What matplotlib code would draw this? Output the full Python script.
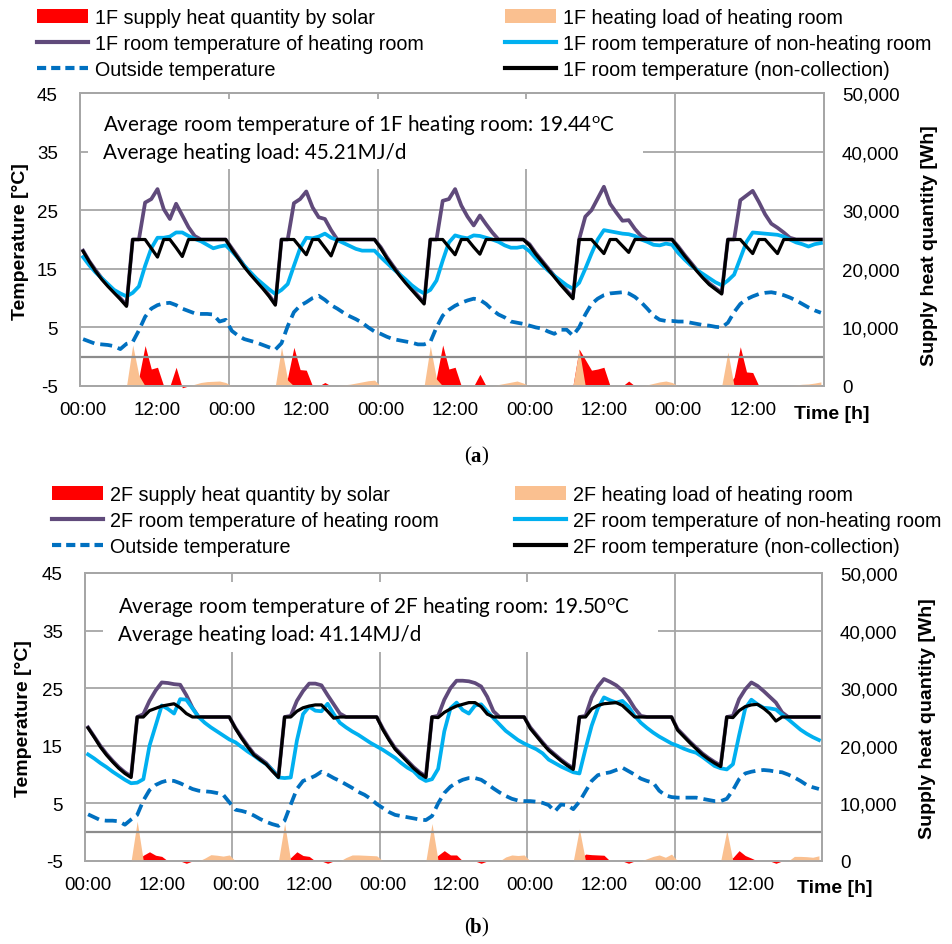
import matplotlib
matplotlib.use('Agg')
import matplotlib.pyplot as plt
from matplotlib.patches import Patch, Rectangle
from matplotlib.lines import Line2D
from matplotlib.ticker import FuncFormatter

plt.rcParams['font.family'] = ['Liberation Sans', 'DejaVu Sans']
plt.rcParams['axes.unicode_minus'] = False
CAL = 'Lato'
SERIF = 'Liberation Serif'
plt.rcParams['mathtext.fontset'] = 'custom'
plt.rcParams['mathtext.rm'] = CAL
plt.rcParams['mathtext.it'] = CAL

# ---------------- data ----------------
HOURS = list(range(120))
TICK_HOURS = [0, 12, 24, 36, 48, 60, 72, 84, 96, 108]
TICK_LABELS = ['00:00', '12:00'] * 5
DAY_BOUNDS = [23.5, 47.5, 71.5, 95.5]

A_BLACK = [18.0, 16.2, 14.6, 13.2, 12.0, 10.9, 9.8, 8.6, 20, 20, 20, 18.5, 17.0, 20, 20, 18.6, 17.1, 20, 20, 20, 20, 20, 20, 20,
           18.3, 16.8, 15.3, 14.0, 12.8, 11.6, 10.3, 8.8, 20, 20, 20, 18.7, 17.4, 20, 20, 18.6, 17.2, 20, 20, 20, 20, 20, 20, 20,
           18.5, 16.8, 15.3, 13.9, 12.6, 11.4, 10.2, 9.0, 20, 20, 20, 18.7, 17.4, 20, 20, 18.7, 17.5, 20, 20, 20, 20, 20, 20, 20,
           19.0, 17.5, 16.2, 14.9, 13.6, 12.3, 11.1, 9.9, 20, 20, 20, 18.8, 17.6, 20, 20, 18.9, 17.8, 20, 20, 20, 20, 20, 20, 20,
           18.6, 17.2, 15.9, 14.6, 13.4, 12.3, 11.5, 10.7, 20, 20, 20, 18.8, 17.6, 20, 20, 18.8, 17.6, 20, 20, 20, 20, 20, 20, 20]
A_PURPLE = [18.1, 16.3, 14.8, 13.4, 12.2, 11.1, 10.0, 8.8, 20, 20, 26.3, 26.9, 28.6, 25.2, 23.5, 26.1, 24.1, 22.1, 20.6, 20, 20, 20, 20, 20,
            18.5, 17.0, 15.5, 14.2, 13.0, 11.8, 10.5, 9.0, 20, 20, 26.2, 26.9, 28.2, 25.5, 23.8, 23.5, 21.6, 20, 20, 20, 20, 20, 20, 20,
            18.7, 17.0, 15.5, 14.1, 12.8, 11.6, 10.4, 9.2, 20, 20, 26.6, 26.9, 28.6, 25.8, 23.9, 22.4, 24.1, 22.6, 21.2, 20, 20, 20, 20, 20,
            19.2, 17.7, 16.4, 15.1, 13.8, 12.5, 11.3, 10.1, 20, 23.9, 25.0, 27.0, 29.0, 26.1, 24.6, 23.2, 23.3, 21.8, 20.6, 20, 20, 20, 20, 20,
            18.8, 17.4, 16.1, 14.8, 13.6, 12.5, 11.7, 10.9, 20, 20, 26.7, 27.5, 28.3, 26.4, 24.3, 22.7, 22.0, 21.2, 20.3, 20, 20, 20, 20, 20]
A_CYAN = [17.0, 15.6, 14.4, 13.4, 12.4, 11.4, 10.8, 10.3, 10.9, 12.0, 15.5, 18.5, 20.3, 20.3, 20.5, 21.2, 21.2, 20.6, 20.1, 19.7, 19.1, 18.5, 18.8, 19.0,
          18.0, 16.8, 15.5, 14.4, 13.3, 12.4, 11.5, 10.7, 11.4, 12.4, 15.5, 18.5, 20.3, 20.2, 20.5, 21.0, 20.3, 19.9, 19.4, 18.9, 18.4, 18.1, 18.1, 18.1,
          17.0, 16.0, 15.0, 14.1, 13.2, 12.2, 11.4, 10.8, 11.4, 13.0, 16.4, 19.5, 20.7, 20.4, 20.2, 20.7, 20.6, 20.3, 20.0, 19.6, 19.0, 18.6, 18.6, 18.8,
          18.0, 16.8, 15.7, 14.7, 13.8, 13.0, 12.2, 11.6, 12.6, 15.0, 17.6, 20.0, 21.6, 21.4, 21.2, 21.0, 20.9, 20.6, 20.0, 19.6, 19.1, 19.0, 19.3, 19.1,
          17.7, 16.6, 15.6, 14.8, 14.1, 13.4, 12.7, 12.2, 13.0, 14.0, 16.8, 19.6, 21.2, 21.1, 21.0, 20.9, 20.8, 20.5, 20.0, 19.5, 19.2, 18.8, 19.2, 19.4]
A_OUT = [3.0, 2.6, 2.2, 2.1, 2.0, 1.8, 1.3, 2.2, 2.5, 4.5, 6.8, 8.2, 8.8, 9.1, 9.2, 8.8, 8.2, 7.8, 7.4, 7.3, 7.3, 7.2, 6.0, 6.3,
         4.4, 3.6, 3.0, 2.7, 2.4, 2.0, 1.6, 1.2, 2.3, 5.2, 7.6, 8.7, 9.3, 10.0, 10.4, 9.7, 8.8, 8.2, 7.5, 6.9, 6.4, 5.8, 5.0, 4.3,
         3.9, 3.4, 3.0, 2.8, 2.6, 2.4, 2.1, 2.1, 2.5, 5.0, 7.0, 8.0, 8.7, 9.2, 9.6, 9.9, 9.7, 9.0, 8.0, 7.2, 6.7, 6.0, 5.8, 5.6,
         5.3, 5.0, 4.8, 4.3, 3.9, 4.6, 4.6, 3.6, 5.0, 7.2, 9.0, 9.9, 10.5, 10.8, 10.9, 11.0, 10.8, 10.2, 9.3, 8.2, 7.0, 6.3, 6.1, 6.1,
         6.0, 6.0, 5.8, 5.6, 5.4, 5.3, 5.1, 5.0, 5.8, 7.6, 9.0, 9.8, 10.3, 10.7, 10.9, 11.0, 10.8, 10.5, 10.1, 9.6, 9.0, 8.4, 7.9, 7.5]
A_SOLAR = {9: 1500, 10: 6900, 11: 2900, 12: 3200, 15: 3200, 16: -300,
           33: 1500, 34: 6600, 35: 2800, 36: 2700, 39: 600,
           57: 1500, 58: 7000, 59: 2900, 60: 3200, 64: 2000,
           80: 6300, 81: 4500, 82: 2700, 83: 2900, 84: 3200, 88: 850,
           105: 1500, 106: 6700, 107: 2400, 108: 2300, 112: 150}
A_LOAD = {8: 7000, 9: 1800, 18: 300, 19: 600, 20: 750, 21: 800, 22: 850, 23: 600,
          32: 6600, 33: 1000, 42: 200, 43: 300, 44: 500, 45: 700, 46: 900, 47: 1000,
          56: 6800, 57: 1200, 67: 250, 68: 450, 69: 650, 70: 850, 71: 500,
          80: 6300, 91: 200, 92: 450, 93: 700, 94: 850, 95: 600,
          104: 5800, 115: 200, 116: 300, 117: 350, 118: 500, 119: 700}

B_BLACK = [18.1, 16.5, 14.8, 13.4, 12.2, 11.1, 10.2, 9.5, 20, 20, 21.1, 21.5, 21.9, 22.1, 22.3, 21.6, 20.6, 20, 20, 20, 20, 20, 20, 20,
           18.0, 16.3, 14.8, 13.4, 12.6, 11.8, 10.6, 9.5, 20, 20, 21.0, 21.6, 21.9, 22.1, 22.1, 21.0, 19.8, 20, 20, 20, 20, 20, 20, 20,
           17.8, 16.0, 14.4, 13.3, 12.2, 11.1, 10.2, 9.5, 20, 19.9, 20.8, 21.4, 21.9, 22.2, 22.5, 22.5, 21.8, 20.5, 20, 20, 20, 20, 20, 20,
           18.0, 16.7, 15.4, 14.2, 13.3, 12.4, 11.6, 10.9, 20, 20, 21.4, 22.0, 22.3, 22.4, 22.5, 22.0, 21.0, 20, 20, 20, 20, 20, 20, 20,
           17.7, 16.6, 15.5, 14.5, 13.5, 12.7, 12.0, 11.4, 20, 19.9, 21.1, 21.8, 22.1, 22.2, 21.5, 20.6, 19.3, 20, 20, 20, 20, 20, 20, 20]
B_PURPLE = [18.2, 16.6, 15.0, 13.6, 12.4, 11.3, 10.4, 9.7, 20, 20.5, 22.8, 24.6, 26.0, 25.9, 25.7, 25.6, 23.8, 21.6, 20, 20, 20, 20, 20, 20,
            18.1, 16.5, 15.0, 13.6, 12.8, 12.0, 10.8, 9.7, 20, 20.2, 22.8, 24.5, 25.8, 25.8, 25.5, 23.8, 22.2, 20.6, 20, 20, 20, 20, 20, 20,
            18.0, 16.2, 14.6, 13.5, 12.4, 11.3, 10.4, 9.7, 20, 20.2, 23.0, 25.0, 26.3, 26.3, 26.2, 25.9, 25.3, 23.5, 21.0, 20, 20, 20, 20, 20,
            18.2, 16.9, 15.6, 14.4, 13.5, 12.6, 11.8, 11.1, 20, 20.2, 23.4, 25.3, 26.6, 26.1, 25.5, 24.6, 23.2, 21.5, 20.2, 20, 20, 20, 20, 20,
            17.9, 16.8, 15.7, 14.7, 13.7, 12.9, 12.2, 11.6, 20, 20.2, 23.1, 24.8, 26.0, 25.4, 24.5, 23.5, 22.5, 20.8, 20, 20, 20, 20, 20, 20]
B_CYAN = [13.5, 12.8, 12.0, 11.3, 10.5, 9.8, 9.1, 8.5, 8.6, 9.2, 15.0, 18.5, 22.0, 21.4, 20.6, 23.1, 23.0, 21.5, 20.0, 19.0, 18.2, 17.5, 16.8, 16.1,
          15.6, 14.8, 14.0, 13.3, 12.5, 11.8, 10.8, 9.5, 9.4, 9.5, 15.9, 20.5, 21.8, 21.1, 21.0, 22.3, 20.5, 19.0, 18.2, 17.5, 16.9, 16.2, 15.5, 14.9,
          14.3, 13.6, 12.9, 12.0, 11.2, 10.6, 9.5, 8.9, 9.2, 11.0, 17.5, 21.5, 22.5, 21.2, 20.6, 22.0, 22.2, 21.0, 19.8, 18.7, 17.6, 16.8, 16.0, 15.4,
          14.9, 14.4, 13.7, 12.6, 12.0, 11.4, 10.9, 10.4, 10.2, 14.5, 18.5, 21.5, 23.4, 22.9, 22.5, 22.8, 21.8, 20.2, 19.0, 18.1, 17.3, 16.6, 16.0, 15.4,
          15.0, 14.5, 14.1, 13.8, 13.1, 12.3, 11.5, 11.1, 10.9, 11.8, 16.8, 21.5, 23.0, 22.2, 21.6, 21.5, 21.3, 20.4, 19.6, 18.7, 17.8, 17.1, 16.5, 16.0]
B_OUT = [3.1, 2.6, 2.1, 2.0, 2.0, 1.9, 1.3, 2.2, 3.0, 5.5, 7.3, 8.2, 8.7, 9.0, 8.9, 8.5, 8.0, 7.5, 7.2, 7.1, 7.0, 6.8, 6.5, 5.2,
         3.9, 3.7, 3.4, 2.9, 2.3, 1.8, 1.4, 1.1, 2.0, 4.8, 7.5, 8.9, 9.3, 9.8, 10.5, 10.0, 9.4, 8.9, 8.3, 7.7, 7.0, 6.5, 5.8, 4.9,
         4.2, 3.5, 3.0, 2.8, 2.6, 2.4, 2.2, 2.1, 2.8, 5.0, 6.8, 7.9, 8.6, 9.1, 9.4, 9.4, 9.1, 8.4, 7.6, 6.9, 6.3, 5.8, 5.5, 5.4,
         5.4, 5.3, 5.1, 4.7, 3.6, 4.8, 4.7, 4.0, 5.3, 7.1, 8.9, 9.9, 10.2, 10.4, 10.8, 11.2, 10.6, 10.0, 9.3, 8.9, 8.6, 7.2, 6.4, 6.1,
         6.0, 6.0, 6.0, 6.0, 5.8, 5.6, 5.4, 5.4, 5.8, 7.3, 9.2, 10.2, 10.5, 10.7, 10.8, 10.7, 10.5, 10.4, 10.0, 9.5, 8.9, 8.2, 7.8, 7.5]
B_SOLAR = {9: 1000, 10: 1600, 11: 1000, 12: 800, 16: -400,
           33: 600, 34: 1600, 35: 950, 36: 800, 39: -400,
           57: 1000, 58: 1800, 59: 1050, 60: 1050, 64: -400,
           81: 1200, 82: 1100, 83: 1050, 84: 1000, 88: -400,
           105: 600, 106: 1800, 107: 950, 108: 500, 112: -400}
B_LOAD = {8: 6900, 19: 500, 20: 1100, 21: 1000, 22: 850, 23: 1050,
          32: 6500, 42: 600, 43: 1050, 44: 1050, 45: 1000, 46: 950, 47: 900,
          56: 6500, 68: 700, 69: 1050, 70: 950, 71: 1050,
          80: 5600, 91: 400, 92: 800, 93: 1050, 94: 650, 95: 1200,
          104: 5300, 115: 800, 116: 800, 117: 750, 118: 650, 119: 900}

PANELS = [
    dict(fl='1F', black=A_BLACK, purple=A_PURPLE, cyan=A_CYAN, out=A_OUT, solar=A_SOLAR, load=A_LOAD,
         avg_t='19.44', avg_load='45.21'),
    dict(fl='2F', black=B_BLACK, purple=B_PURPLE, cyan=B_CYAN, out=B_OUT, solar=B_SOLAR, load=B_LOAD,
         avg_t='19.50', avg_load='41.14'),
]

# ---------------- styling / layout ----------------
W, H = 952, 945
C_RED, C_PEACH = '#FF0000', '#FAC090'
C_PURPLE, C_CYAN, C_OUT, C_BLACK = '#604A7B', '#00B0F0', '#0070C0', '#000000'
C_GRID, C_AXIS = '#A6A6A6', '#8C8C8C'

LAYOUT = [
    dict(ax=(80, 94, 824, 387), box=(88, 100, 643, 170), txt_x=103, txt_y=(125, 153),
         ylab=(21, 242), rlab=(930, 246), time=(832, 415), leg_y=9, leg_x=(37, 505), plab=(476, 457)),
    dict(ax=(85, 574, 822, 862), box=(103, 583, 658, 653), txt_x=118, txt_y=(607, 635),
         ylab=(24, 719), rlab=(928, 719), time=(835, 889), leg_y=486, leg_x=(52, 515), plab=(476, 928)),
]

fig = plt.figure(figsize=(W / 100, H / 100), dpi=100)

def fx(x):
    return x / W

def fy(y):
    return 1 - y / H

for P, L in zip(PANELS, LAYOUT):
    x0, y0, x1, y1 = L['ax']
    ax = fig.add_axes([fx(x0), fy(y1), (x1 - x0) / W, (y1 - y0) / H])
    ax2 = ax.twinx()
    ax.set_zorder(ax2.get_zorder() + 1)
    ax.patch.set_visible(False)

    ax2.set_ylim(0, 50000)
    ax2.set_yticks(range(0, 50001, 10000))
    ax2.yaxis.set_major_formatter(FuncFormatter(lambda v, p: f'{int(v):,}'))
    ax2.set_axisbelow(True)
    ax2.yaxis.grid(True, color=C_GRID, lw=1.3)
    for xb in DAY_BOUNDS:
        ax2.axvline(xb, color=C_GRID, lw=1.3, zorder=0.5)
    solar = [P['solar'].get(h, 0) for h in HOURS]
    load = [P['load'].get(h, 0) for h in HOURS]
    ax2.fill_between(HOURS, 0, solar, color=C_RED, lw=0, zorder=2, clip_on=False)
    ax2.fill_between(HOURS, 0, load, color=C_PEACH, lw=0, zorder=3)

    ax.set_xlim(-0.5, 119.5)
    ax.set_ylim(-5, 45)
    ax.set_yticks(range(-5, 46, 10))
    ax.set_xticks(TICK_HOURS)
    ax.set_xticklabels(TICK_LABELS)
    ax.axhline(0, color=C_AXIS, lw=1.6, zorder=1.5)
    ax.plot(HOURS, P['purple'], color=C_PURPLE, lw=2.7, zorder=3)
    ax.plot(HOURS, P['cyan'], color=C_CYAN, lw=2.7, zorder=4)
    ax.plot(HOURS, P['out'], color=C_OUT, lw=2.7, dashes=(3.2, 1.6), zorder=5)
    ax.plot(HOURS, P['black'], color=C_BLACK, lw=2.3, zorder=6)

    for a in (ax, ax2):
        for s in a.spines.values():
            s.set_color(C_GRID)
            s.set_linewidth(1.3)
    ax.tick_params(axis='both', length=0, labelsize=13.5, colors='black')
    ax.tick_params(axis='y', pad=16)
    ax.tick_params(axis='x', pad=11)
    ax2.tick_params(axis='y', length=0, labelsize=13.5, pad=13)

    bx0, by0, bx1, by1 = L['box']
    ax.add_patch(Rectangle((fx(bx0), fy(by1)), (bx1 - bx0) / W, (by1 - by0) / H,
                           transform=fig.transFigure, facecolor='white', edgecolor='none', zorder=1.2))
    fig.text(fx(L['txt_x']), fy(L['txt_y'][0]),
             f"Average room temperature of {P['fl']} heating room: {P['avg_t']}$^{{\\mathrm{{o}}}}$C",
             family=CAL, fontsize=14.9, va='center', ha='left', zorder=10)
    fig.text(fx(L['txt_x']), fy(L['txt_y'][1]),
             f"Average heating load: {P['avg_load']}MJ/d",
             family=CAL, fontsize=14.9, va='center', ha='left', zorder=10)

    fig.text(fx(L['ylab'][0]), fy(L['ylab'][1]), 'Temperature [\u00b0C]', rotation=90,
             fontsize=14, fontweight='bold', ha='center', va='center')
    fig.text(fx(L['rlab'][0]), fy(L['rlab'][1]), 'Supply heat quantity [Wh]', rotation=90,
             fontsize=14, fontweight='bold', ha='center', va='center')
    fig.text(fx(L['time'][0]), fy(L['time'][1]), 'Time [h]',
             fontsize=14, fontweight='bold', ha='center', va='center')

    fl = P['fl']
    col1 = [Patch(facecolor=C_RED, edgecolor='none'),
            Line2D([], [], color=C_PURPLE, lw=3),
            Line2D([], [], color=C_OUT, lw=3, dashes=(2.2, 1.2))]
    lab1 = [f'{fl} supply heat quantity by solar', f'{fl} room temperature of heating room',
            'Outside temperature']
    col2 = [Patch(facecolor=C_PEACH, edgecolor='none'),
            Line2D([], [], color=C_CYAN, lw=3),
            Line2D([], [], color=C_BLACK, lw=3)]
    lab2 = [f'{fl} heating load of heating room', f'{fl} room temperature of non-heating room',
            f'{fl} room temperature (non-collection)']
    for hs, ls, lx in ((col1, lab1, L['leg_x'][0]), (col2, lab2, L['leg_x'][1])):
        fig.legend(hs, ls, loc='upper left', bbox_to_anchor=(fx(lx), fy(L['leg_y'])),
                   frameon=False, borderpad=0, borderaxespad=0, fontsize=14.2,
                   handlelength=2.6, handletextpad=0.35, labelspacing=0.36, handleheight=0.65)

    px, py = L['plab']
    letter = 'a' if fl == '1F' else 'b'
    fig.text(fx(px - 5), fy(py), '(', family=SERIF, fontsize=15, ha='right', va='center')
    fig.text(fx(px), fy(py), letter, family=SERIF, fontsize=15, fontweight='bold', ha='center', va='center')
    fig.text(fx(px + 5), fy(py), ')', family=SERIF, fontsize=15, ha='left', va='center')

fig.savefig('out.png', dpi=100)
